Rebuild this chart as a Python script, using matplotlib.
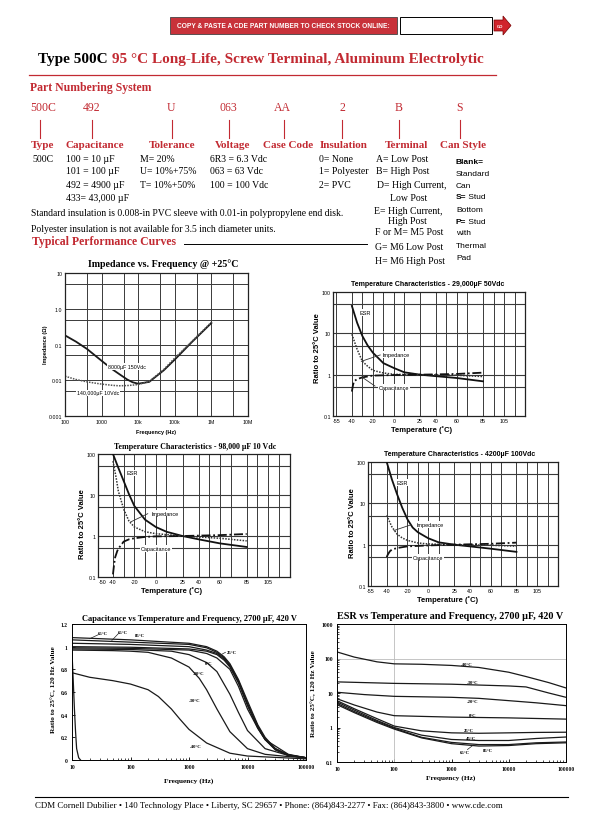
import numpy as np
import matplotlib.pyplot as plt
from matplotlib.patches import Rectangle, Polygon
from matplotlib.lines import Line2D
from matplotlib.ticker import NullFormatter

W, H = 612, 828
RED = '#c22a32'
SERIF = 'Liberation Serif'
SANS = 'Liberation Sans'
plt.rcParams['font.family'] = SANS

# ---------------- data ----------------
# part numbering
codes = ['500C', '492', 'U', '063', 'AA', '2', 'B', 'S']
fields = ['Type', 'Capacitance', 'Tolerance', 'Voltage', 'Case Code', 'Insulation', 'Terminal', 'Can Style']
cap_codes = ['100 = 10 \u00b5F', '101 = 100 \u00b5F', '492 = 4900 \u00b5F', '433= 43,000 \u00b5F']
tol_codes = ['M= 20%', 'U= 10%+75%', 'T= 10%+50%']
volt_codes = ['6R3 = 6.3 Vdc', '063 = 63 Vdc', '100 = 100 Vdc']
ins_codes = ['0= None', '1= Polyester', '2= PVC']
term_codes = ['A= Low Post', 'B= High Post', 'D= High Current,', 'Low Post', 'E= High Current,',
              'High Post', 'F or M= M5 Post', 'G= M6 Low Post', 'H= M6 High Post']

# impedance vs frequency
imp_freq = [100, 200, 400, 1000, 2000, 3000, 5000, 7000, 10000, 20000, 50000, 100000, 300000, 1000000]
imp_8000 = [0.18, 0.12, 0.075, 0.035, 0.02, 0.015, 0.0105, 0.0088, 0.008, 0.009, 0.019, 0.038, 0.12, 0.40]
imp_140k = [0.013, 0.0105, 0.009, 0.0078, 0.0072, 0.0070, 0.0071, 0.0073, 0.0076, 0.0093, 0.02, 0.042, 0.125, 0.42]

# temperature characteristics 29,000uF 50Vdc
t29_esr = [-40, -35, -30, -25, -20, -10, 0, 10, 25, 40, 60, 85]
esr29 = [46, 18, 8.6, 5.1, 3.4, 1.9, 1.45, 1.14, 1.0, 0.92, 0.83, 0.69]
t29_imp = [-40, -35, -30, -25, -20, -10, 0, 25, 60, 85]
imp29 = [9.5, 4.1, 2.1, 1.6, 1.27, 1.1, 1.02, 1.0, 0.97, 0.9]
t29_cap = [-40, -39, -38, -35, -30, -20, 0, 25, 60, 85]
cap29 = [0.39, 0.55, 0.69, 0.78, 0.86, 0.95, 0.98, 1.0, 1.04, 1.12]

# temperature characteristics 98,000uF 10Vdc
t98_esr = [-40, -35, -30, -25, -20, -10, 0, 10, 25, 40, 60, 85]
esr98 = [100, 46, 22, 10.4, 5.4, 2.5, 1.66, 1.27, 1.0, 0.83, 0.66, 0.54]
t98_imp = [-40, -37, -35, -30, -25, -20, -10, 0, 25, 60, 85]
imp98 = [67, 26, 12.5, 4.5, 2.3, 1.66, 1.27, 1.14, 1.0, 0.88, 0.76]
t98_cap = [-40, -39, -38, -36, -35, -30, -25, -20, -10, 0, 25, 60, 85]
cap98 = [0.116, 0.2, 0.3, 0.43, 0.49, 0.73, 0.83, 0.88, 0.95, 0.98, 1.0, 1.05, 1.12]

# temperature characteristics 4200uF 100Vdc
t42_esr = [-40, -35, -30, -25, -20, -15, -10, 0, 10, 25, 40, 60, 85]
esr42 = [100, 38, 16.6, 7.8, 4.1, 2.6, 2.0, 1.43, 1.14, 1.0, 0.91, 0.8, 0.67]
t42_imp = [-40, -35, -30, -25, -20, -10, 0, 25, 60, 85]
imp42 = [5.1, 2.7, 1.8, 1.45, 1.27, 1.1, 1.04, 1.0, 0.97, 0.92]
t42_cap = [-40, -39, -37, -35, -30, -20, 0, 25, 60, 85]
cap42 = [0.5, 0.57, 0.69, 0.76, 0.83, 0.91, 0.96, 1.0, 1.05, 1.12]

temp_ticks = [-55, -40, -20, 0, 25, 40, 60, 85, 105]
temp_ticks98 = [-50, -40, -20, 0, 25, 40, 60, 85, 105]
temp_grid = [-55, -40, -30, -20, -10, 0, 10, 25, 40, 50, 60, 70, 85, 95, 105, 115]

# capacitance vs temperature and frequency, 2700uF 420V
cf_m55 = [10, 10.5, 11, 11.5, 12, 13, 14]
cv_m55 = [0.95, 0.7, 0.45, 0.25, 0.1, 0.02, 0.0]
cf_m40 = [10, 20, 50, 100, 200, 300, 500, 700, 1000, 2000, 5000, 10000, 100000]
cv_m40 = [0.77, 0.73, 0.70, 0.67, 0.62, 0.56, 0.45, 0.36, 0.27, 0.15, 0.06, 0.035, 0.01]
cf_m30 = [10, 50, 100, 200, 500, 1000, 1500, 2000, 3000, 5000, 10000, 20000, 50000, 100000]
cv_m30 = [0.97, 0.965, 0.96, 0.95, 0.90, 0.82, 0.72, 0.62, 0.45, 0.25, 0.10, 0.05, 0.03, 0.02]
cf_m20 = [10, 100, 500, 1000, 2000, 3000, 5000, 7000, 10000, 20000, 50000, 100000]
cv_m20 = [0.98, 0.975, 0.96, 0.93, 0.86, 0.78, 0.58, 0.42, 0.26, 0.10, 0.04, 0.02]
cf_0 = [10, 100, 1000, 2000, 3000, 5000, 7000, 10000, 15000, 20000, 50000, 100000]
cv_0 = [0.99, 0.985, 0.97, 0.94, 0.90, 0.80, 0.65, 0.45, 0.28, 0.18, 0.05, 0.02]
cf_hot = [10, 100, 1000, 2000, 3000, 4000, 5000, 7000, 10000, 15000, 20000, 30000, 50000, 100000]
cv_25 = [1.0, 0.995, 0.98, 0.96, 0.93, 0.88, 0.82, 0.68, 0.48, 0.28, 0.18, 0.09, 0.04, 0.02]
cv_45 = [1.06, 1.04, 1.02, 0.99, 0.95, 0.90, 0.84, 0.70, 0.50, 0.30, 0.19, 0.10, 0.045, 0.02]
cv_65 = [1.08, 1.06, 1.03, 1.0, 0.96, 0.91, 0.85, 0.71, 0.52, 0.31, 0.20, 0.10, 0.045, 0.02]
cv_85 = [1.03, 1.02, 1.0, 0.97, 0.94, 0.89, 0.83, 0.69, 0.49, 0.29, 0.18, 0.09, 0.04, 0.02]

# ESR vs temperature and frequency, 2700uF 420V
ef_m40 = [10, 20, 50, 100, 300, 1000, 3000, 10000, 20000, 50000, 100000]
ev_m40 = [155, 110, 80, 70, 68, 63, 55, 40, 30, 20, 14]
ef_m30 = [10, 100, 1000, 3000, 10000, 20000, 50000, 100000]
ev_m30 = [21, 19, 18, 17, 16, 15, 10, 7.5]
ef_m20 = [10, 30, 100, 1000, 3000, 10000, 30000, 100000]
ev_m20 = [10.5, 9, 8, 7.5, 7, 6, 5.2, 4.3]
ef_0 = [10, 20, 50, 100, 300, 1000, 10000, 100000]
ev_0 = [6.8, 4.5, 2.8, 2.2, 2.1, 2.0, 1.9, 1.75]
ef_hot = [10, 20, 50, 100, 300, 1000, 3000, 10000, 30000, 100000]
ev_25 = [6.0, 3.5, 1.8, 1.1, 0.8, 0.7, 0.68, 0.7, 0.72, 0.73]
ev_45 = [5.5, 3.2, 1.6, 1.0, 0.6, 0.45, 0.42, 0.42, 0.48, 0.53]
ev_65 = [5.0, 2.9, 1.5, 0.95, 0.52, 0.37, 0.32, 0.32, 0.36, 0.38]
ev_85 = [4.6, 2.7, 1.4, 0.9, 0.5, 0.34, 0.29, 0.30, 0.34, 0.36]

freq_ticks = [10, 100, 1000, 10000, 100000]
freq_labels = ['10', '100', '1000', '10000', '100000']

# ---------------- page ----------------
fig = plt.figure(figsize=(6.12, 8.28), dpi=100)


def ftext(x, y, s, size=7, family=SERIF, color='black', weight='normal', ha='left', va='center', **kw):
    return fig.text(x / W, 1 - y / H, s, fontsize=size, family=family, color=color,
                    weight=weight, ha=ha, va=va, **kw)


def fline(x0, y0, x1, y1, color='black', lw=0.8):
    fig.add_artist(Line2D([x0 / W, x1 / W], [1 - y0 / H, 1 - y1 / H], color=color, lw=lw,
                          transform=fig.transFigure))


def frect(l, t, r, b, **kw):
    fig.add_artist(Rectangle((l / W, 1 - b / H), (r - l) / W, (b - t) / H,
                             transform=fig.transFigure, **kw))


def add_ax(l, t, r, b):
    return fig.add_axes([l / W, 1 - b / H, (r - l) / W, (b - t) / H])


# header box
frect(170, 18, 397, 35, facecolor='#c8323a', edgecolor='#444', lw=0.6)
ftext(283.5, 26.5, 'COPY & PASTE A CDE PART NUMBER TO CHECK STOCK ONLINE:', size=4.8,
      family=SANS, weight='bold', color='white', ha='center')
frect(400, 18, 492, 35, facecolor='white', edgecolor='black', lw=0.7)
arrow = [(494, 21), (503, 21), (503, 17), (511, 26.5), (503, 36), (503, 32), (494, 32)]
fig.add_artist(Polygon([(x / W, 1 - y / H) for x, y in arrow], closed=True, transform=fig.transFigure,
                       facecolor='#d0242c', edgecolor='#700', lw=0.5))
ftext(500, 26.5, 'GO', size=3, family=SANS, weight='bold', color='white', ha='center')

# title
ftext(38, 60, 'Type 500C', size=11, weight='bold')
ftext(112, 60, '95 \u00b0C Long-Life, Screw Terminal, Aluminum Electrolytic', size=11,
      weight='bold', color=RED)
fline(29, 76, 496, 76, color=RED, lw=0.9)

# part numbering system
ftext(30, 88, 'Part Numbering System', size=8.5, weight='bold', color=RED)
code_x = [30, 83, 167, 219, 274, 339, 395, 456]
stem_x = [40, 92, 172, 229, 284, 342, 399, 460]
field_x = [31, 65, 149, 215, 263, 320, 385, 440]
for c, cx, sx in zip(codes, code_x, stem_x):
    ftext(cx, 108, c, size=8.5, color=RED)
    fline(sx, 121, sx, 139, color=RED, lw=0.8)
for f, fx in zip(fields, field_x):
    ftext(fx, 146, f, size=8, weight='bold', color=RED)

rows = [159, 172, 186, 199]
ftext(32, rows[0], '500C', size=7)
for s, y in zip(cap_codes, rows):
    ftext(66, y, s, size=7)
for s, y in zip(tol_codes, rows):
    ftext(140, y, s, size=7)
for s, y in zip(volt_codes, rows):
    ftext(210, y, s, size=7)
for s, y in zip(ins_codes, rows):
    ftext(319, y, s, size=7)
term_x = [376, 376, 377, 390, 374, 388, 375, 375, 375]
term_y = [159, 172, 186, 199, 211, 222, 233, 247, 261]
for s, x, y in zip(term_codes, term_x, term_y):
    ftext(x, y, s, size=7)

can_lines = [('Blank=', 'bold'), ('Standard', 'normal'), ('Can', 'normal'), ('S=', 'bold'),
             ('Bottom', 'normal'), ('P=', 'bold'), ('with', 'normal'), ('Thermal', 'normal'),
             ('Pad', 'normal')]
for i, (s, w) in enumerate(can_lines):
    y = 162 + i * 12
    ftext(456, y, s, size=6, family=SANS, weight=w)
ftext(466, 162 + 3 * 12, ' Stud', size=6, family=SANS)
ftext(466, 162 + 5 * 12, ' Stud', size=6, family=SANS)

ftext(31, 214, 'Standard insulation is 0.008-in PVC sleeve with 0.01-in polypropylene end disk.', size=6.9)
ftext(31, 229, 'Polyester insulation is not available for 3.5 inch diameter units.', size=6.9)
ftext(32, 242, 'Typical Performance Curves', size=8.5, weight='bold', color=RED)
fline(184, 245, 367, 245, color='black', lw=0.7)

# ---------------- chart 1: impedance vs frequency ----------------
ax1 = add_ax(65, 274, 248, 417)
ax1.set_xscale('log')
ax1.set_yscale('log')
ax1.plot(imp_freq, imp_8000, color='#1a1a1a', lw=1.3)
ax1.plot(imp_freq, imp_140k, color='#555', lw=1.1, ls=(0, (1, 0.8)))
ax1.set_xlim(100, 1e7)
ax1.set_ylim(1e-3, 10)
ax1.set_xticks([1e2, 1e3, 1e4, 1e5, 1e6, 1e7])
ax1.set_xticklabels(['100', '1000', '10k', '100k', '1M', '10M'])
ax1.set_xticks([400, 4000, 4e4, 4e5, 4e6], minor=True)
ax1.set_yticks([1e-3, 1e-2, 0.1, 1, 10])
ax1.set_yticklabels(['0.001', '0.01', '0.1', '1.0', '10'])
ax1.set_yticks([5e-3, 5e-2, 0.5, 5], minor=True)
ax1.xaxis.set_minor_formatter(NullFormatter())
ax1.yaxis.set_minor_formatter(NullFormatter())
ax1.grid(which='both', color='#3a3a3a', lw=0.7)
ax1.tick_params(which='both', length=0, labelsize=3.8, pad=2)
for sp in ax1.spines.values():
    sp.set_color('#222')
    sp.set_linewidth(0.9)
ax1.text(5000, 0.024, '8000\u00b5F 150Vdc', fontsize=3.8, ha='center', va='center',
         bbox=dict(facecolor='white', edgecolor='none', pad=0.6))
ax1.text(810, 0.0044, '140,000\u00b5F 10Vdc', fontsize=3.8, ha='center', va='center',
         bbox=dict(facecolor='white', edgecolor='none', pad=0.6))
ftext(163, 264, 'Impedance vs. Frequency @ +25\u00b0C', size=7.2, weight='bold', ha='center')
ftext(46, 345, 'Impedance (\u03a9)', size=4, family=SANS, weight='bold', rotation=90, ha='center')
ftext(156, 433, 'Frequency (Hz)', size=4, family=SANS, weight='bold', ha='center')


# ---------------- temperature characteristic charts ----------------
def temp_panel(box, xlim, ticks, esr_t, esr, imp_t, imp, cap_t, cap, esr_xy, imp_xy, imp_lead,
               cap_xy, cap_lead):
    ax = add_ax(*box)
    ax.set_yscale('log')
    ax.set_xlim(*xlim)
    ax.set_ylim(0.1, 100)
    for t in temp_grid:
        ax.axvline(t, color='#3a3a3a', lw=0.7, zorder=1)
    for v in [50, 10, 5, 1, 0.5]:
        ax.axhline(v, color='#3a3a3a', lw=0.8, zorder=1)
    ax.plot(esr_t, esr, color='#111', lw=1.3, zorder=3)
    ax.plot(imp_t, imp, color='#333', lw=1.1, ls=(0, (1, 0.9)), zorder=3)
    ax.plot(cap_t, cap, color='#111', lw=1.3, ls=(0, (5, 1.5, 1, 1.5)), zorder=3)
    ax.set_xticks(ticks)
    ax.set_xticklabels([str(t) for t in ticks])
    ax.set_yticks([0.1, 1, 10, 100])
    ax.set_yticklabels(['0.1', '1', '10', '100'])
    ax.yaxis.set_minor_locator(plt.NullLocator())
    ax.tick_params(length=0, labelsize=3.8, pad=1.5)
    for sp in ax.spines.values():
        sp.set_color('#222')
        sp.set_linewidth(0.9)
    bb = dict(facecolor='white', edgecolor='none', pad=0.5)
    ax.text(esr_xy[0], esr_xy[1], 'ESR', fontsize=4, ha='center', va='center', zorder=5, bbox=bb)
    ax.text(imp_xy[0], imp_xy[1], 'Impedance', fontsize=4, ha='center', va='center', zorder=5, bbox=bb)
    ax.text(cap_xy[0], cap_xy[1], 'Capacitance', fontsize=4, ha='center', va='center', zorder=5, bbox=bb)
    if imp_lead:
        ax.plot(imp_lead[0], imp_lead[1], color='#333', lw=0.6, zorder=4)
    if cap_lead:
        ax.plot(cap_lead[0], cap_lead[1], color='#333', lw=0.6, zorder=4)
    return ax


temp_panel((333, 293, 525, 417), (-58, 125), temp_ticks, t29_esr, esr29, t29_imp, imp29, t29_cap, cap29,
           (-27, 32), (2.5, 3.1), ([-31, -13], [2.1, 3.0]), (0, 0.5), ([-30, -18], [0.86, 0.53]))
ftext(428, 285, 'Temperature Characteristics - 29,000\u00b5F 50Vdc', size=5, family=SANS,
      weight='bold', ha='center')
ftext(317, 348, 'Ratio to 25\u00b0C Value', size=5.5, family=SANS, weight='bold', rotation=90, ha='center')
ftext(422, 430, 'Temperature (\u02daC)', size=5.5, family=SANS, weight='bold', ha='center')

temp_panel((98, 455, 290, 578), (-54, 125.5), temp_ticks98, t98_esr, esr98, t98_imp, imp98, t98_cap, cap98,
           (-22, 35), (8.4, 3.6), ([-23.5, -7.5], [2.2, 3.5]), (0, 0.5), None)
ftext(195, 447, 'Temperature Characteristics - 98,000 \u00b5F 10 Vdc', size=5.7, weight='bold', ha='center')
ftext(82, 524, 'Ratio to 25\u00b0C Value', size=5.5, family=SANS, weight='bold', rotation=90, ha='center')
ftext(172, 591, 'Temperature (\u02daC)', size=5.5, family=SANS, weight='bold', ha='center')

temp_panel((368, 463, 558, 587), (-58, 125), temp_ticks, t42_esr, esr42, t42_imp, imp42, t42_cap, cap42,
           (-24.6, 32), (2, 3.1), ([-33, -17], [2.2, 3.0]), (0, 0.5), None)
ftext(460, 455, 'Temperature Characteristics - 4200\u00b5F 100Vdc', size=5, family=SANS,
      weight='bold', ha='center')
ftext(352, 523, 'Ratio to 25\u00b0C Value', size=5.5, family=SANS, weight='bold', rotation=90, ha='center')
ftext(448, 600, 'Temperature (\u02daC)', size=5.5, family=SANS, weight='bold', ha='center')


def serif_ticks(ax, size=4):
    for lab in ax.get_xticklabels() + ax.get_yticklabels():
        lab.set_family(SERIF)
        lab.set_weight('bold')
        lab.set_fontsize(size)


# ---------------- chart 5: capacitance vs temperature and frequency ----------------
ax5 = add_ax(72, 625, 306, 761)
ax5.set_xscale('log')
for f, v in [(cf_m55, cv_m55), (cf_m40, cv_m40), (cf_m30, cv_m30), (cf_m20, cv_m20), (cf_0, cv_0),
             (cf_hot, cv_25), (cf_hot, cv_45), (cf_hot, cv_65), (cf_hot, cv_85)]:
    ax5.plot(f, v, color='#1a1a1a', lw=0.9)
ax5.set_xlim(10, 100000)
ax5.set_ylim(0, 1.2)
ax5.set_xticks(freq_ticks)
ax5.set_xticklabels(freq_labels)
ax5.set_yticks([0, 0.2, 0.4, 0.6, 0.8, 1.0, 1.2])
ax5.set_yticklabels(['0', '0.2', '0.4', '0.6', '0.8', '1', '1.2'])
ax5.xaxis.set_minor_formatter(NullFormatter())
ax5.tick_params(which='both', direction='in', labelsize=4, pad=3)
ax5.tick_params(which='major', length=2.5, width=0.6)
ax5.tick_params(which='minor', length=1.5, width=0.5)
serif_ticks(ax5)
for sp in ax5.spines.values():
    sp.set_linewidth(0.7)
lab5 = [('25\u00b0C', 5400, 0.955), ('0\u00b0C', 2200, 0.86), ('-20\u00b0C', 1480, 0.77),
        ('-30\u00b0C', 1260, 0.53), ('-40\u00b0C', 1320, 0.12), ('65\u00b0C', 34, 1.12),
        ('65\u00b0C', 74, 1.13), ('85\u00b0C', 145, 1.10)]
for s, x, y in lab5:
    ax5.text(x, y, s, fontsize=3.4, family=SERIF, weight='bold', ha='center', va='center')
ax5.plot([28, 20], [1.105, 1.07], color='#222', lw=0.5)
ax5.plot([62, 48], [1.115, 1.055], color='#222', lw=0.5)
ax5.plot([4200, 3700], [0.95, 0.935], color='#222', lw=0.5)
ftext(189, 619, 'Capacitance vs Temperature and Frequency, 2700 \u00b5F, 420 V', size=6,
      weight='bold', ha='center')
ftext(53, 690, 'Ratio to 25\u00b0C, 120 Hz Value', size=5.2, weight='bold', rotation=90, ha='center')
ftext(189, 781, 'Frequency (Hz)', size=5.3, weight='bold', ha='center')

# ---------------- chart 6: ESR vs temperature and frequency ----------------
ax6 = add_ax(337, 625, 566, 763)
ax6.set_xscale('log')
ax6.set_yscale('log')
ax6.axvline(100, color='#bbb', lw=0.6)
ax6.axhline(100, color='#bbb', lw=0.6)
for f, v in [(ef_m40, ev_m40), (ef_m30, ev_m30), (ef_m20, ev_m20), (ef_0, ev_0),
             (ef_hot, ev_25), (ef_hot, ev_45), (ef_hot, ev_65), (ef_hot, ev_85)]:
    ax6.plot(f, v, color='#1a1a1a', lw=0.9)
ax6.set_xlim(10, 100000)
ax6.set_ylim(0.1, 1000)
ax6.set_xticks(freq_ticks)
ax6.set_xticklabels(freq_labels)
ax6.set_yticks([0.1, 1, 10, 100, 1000])
ax6.set_yticklabels(['0.1', '1', '10', '100', '1000'])
ax6.xaxis.set_minor_formatter(NullFormatter())
ax6.yaxis.set_minor_formatter(NullFormatter())
ax6.tick_params(which='both', direction='in', labelsize=4, pad=3)
ax6.tick_params(which='major', length=2.5, width=0.6)
ax6.tick_params(which='minor', length=1.5, width=0.5)
serif_ticks(ax6)
for sp in ax6.spines.values():
    sp.set_linewidth(0.7)
lab6 = [('-40\u00b0C', 1860, 69), ('-30\u00b0C', 2300, 21), ('-20\u00b0C', 2300, 5.9),
        ('0\u00b0C', 2300, 2.3), ('25\u00b0C', 2000, 0.85), ('45\u00b0C', 2150, 0.5),
        ('65\u00b0C', 1700, 0.195), ('85\u00b0C', 4400, 0.22)]
for s, x, y in lab6:
    ax6.text(x, y, s, fontsize=3.4, family=SERIF, weight='bold', ha='center', va='center')
ax6.plot([1900, 2400], [0.23, 0.31], color='#222', lw=0.5)
ftext(450, 617, 'ESR vs Temperature and Frequency, 2700 \u00b5F, 420 V', size=7.3,
      weight='bold', ha='center')
ftext(313, 694, 'Ratio to 25\u00b0C, 120 Hz Value', size=5.2, weight='bold', rotation=90, ha='center')
ftext(451, 778, 'Frequency (Hz)', size=5.3, weight='bold', ha='center')

# ---------------- footer ----------------
fline(35, 798, 568, 798, lw=0.8)
ftext(35, 806, 'CDM Cornell Dubilier \u2022 140 Technology Place \u2022 Liberty, SC 29657 \u2022 '
      'Phone: (864)843-2277 \u2022 Fax: (864)843-3800 \u2022 www.cde.com', size=6.4)

fig.savefig('out.png', dpi=100)
